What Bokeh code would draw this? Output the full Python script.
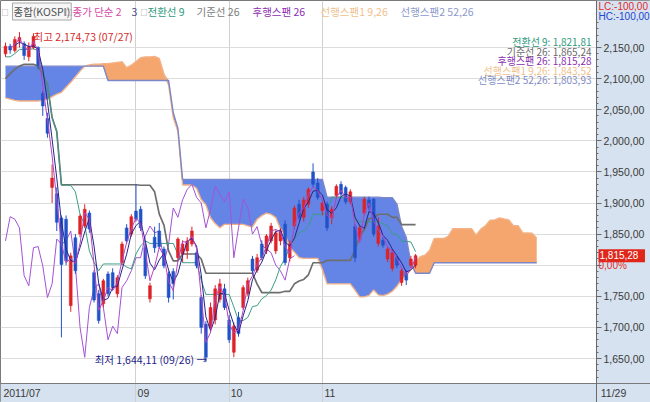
import math
from bokeh.plotting import figure
from bokeh.models import Range1d, FixedTicker, Label, BoxAnnotation
from bokeh.embed import file_html
from bokeh.resources import INLINE

# ---------------- data ----------------
dates = ["07/22", "07/25", "07/26", "07/27", "07/28", "07/29",
         "08/01", "08/02", "08/03", "08/04", "08/05", "08/08", "08/09", "08/10", "08/11", "08/12",
         "08/16", "08/17", "08/18", "08/19", "08/22", "08/23", "08/24", "08/25", "08/26", "08/29",
         "08/30", "08/31",
         "09/01", "09/02", "09/05", "09/06", "09/07", "09/08", "09/09", "09/14", "09/15", "09/16",
         "09/19", "09/20", "09/21", "09/22", "09/23", "09/26", "09/27", "09/28", "09/29", "09/30",
         "10/04", "10/05", "10/06", "10/07", "10/10", "10/11", "10/12", "10/13", "10/14", "10/17",
         "10/18", "10/19", "10/20", "10/21", "10/24", "10/25", "10/26", "10/27", "10/28", "10/31",
         "11/01", "11/02", "11/03", "11/04", "11/07", "11/08", "11/09", "11/10", "11/11", "11/14",
         "11/15", "11/16", "11/17", "11/18", "11/21", "11/22", "11/23", "11/24", "11/25", "11/28",
         "11/29"]

open_ = [2140, 2152, 2145, 2160, 2156, 2135, 2150, 2150, 2076, 2036, 1925, 1915, 1876, 1874, 1735, 1844,
         1850, 1863, 1884, 1788, 1754, 1738, 1786, 1788, 1754, 1804, 1860, 1850,
         1887, 1890, 1828, 1746, 1845, 1855, 1826, 1786, 1790, 1812, 1818, 1823, 1834, 1820, 1748, 1705,
         1700, 1712, 1745, 1762,
         1712, 1660, 1716, 1732, 1754, 1810, 1792, 1834, 1823, 1839, 1823, 1839, 1866, 1812, 1863, 1898,
         1877, 1898, 1950, 1932,
         1888, 1898, 1876, 1912, 1930, 1925, 1902, 1862, 1842, 1884, 1905, 1906, 1835, 1840, 1810, 1795,
         1812, 1772, 1786, 1800, 1800]
high = [2158, 2156, 2168, 2174.73, 2160, 2158, 2173, 2152, 2080, 2045, 1962, 1925, 1880, 1880, 1820, 1850,
        1882, 1898, 1888, 1792, 1760, 1778, 1790, 1795, 1784, 1838, 1866, 1882,
        1930, 1895, 1835, 1772, 1862, 1868, 1830, 1790, 1795, 1845, 1840, 1845, 1862, 1822, 1752, 1710,
        1740, 1768, 1778, 1770,
        1720, 1708, 1725, 1768, 1780, 1815, 1818, 1840, 1850, 1868, 1856, 1860, 1872, 1840, 1896, 1905,
        1910, 1925, 1963.75, 1940,
        1905, 1902, 1895, 1930, 1935, 1928, 1922, 1866, 1865, 1910, 1910, 1908, 1876.89, 1845, 1830, 1826,
        1815, 1795, 1792, 1815, 1818]
low = [2135, 2140, 2142, 2150, 2130, 2128, 2147, 2115, 2040, 2005, 1900, 1855, 1684, 1800, 1725, 1786,
       1845, 1860, 1852, 1740, 1706, 1732, 1750, 1760, 1748, 1800, 1835, 1846,
       1870, 1855, 1778, 1740, 1820, 1826, 1795, 1740, 1745, 1808, 1805, 1810, 1830, 1795, 1690, 1644.11,
       1692, 1705, 1740, 1728,
       1675, 1652, 1685, 1728, 1750, 1786, 1788, 1808, 1818, 1835, 1818, 1832, 1800, 1806, 1858, 1872,
       1870, 1892, 1925, 1905,
       1880, 1855, 1866, 1908, 1910, 1898, 1898, 1805, 1838, 1880, 1888, 1846, 1830, 1828, 1805, 1790,
       1795, 1766.73, 1768, 1796, 1795]
close = [2152, 2146, 2163, 2166, 2137, 2152, 2168, 2121, 2056, 2012, 1940, 1869, 1801, 1807, 1815, 1791,
         1879, 1890, 1858, 1744, 1711, 1775, 1754, 1764, 1780, 1834, 1839, 1878,
         1874, 1860, 1783, 1767, 1828, 1830, 1799, 1748, 1770, 1842, 1834, 1839, 1855, 1799, 1700, 1652,
         1732, 1762, 1770, 1732,
         1680, 1702, 1690, 1764, 1775, 1791, 1812, 1812, 1847, 1863, 1852, 1855, 1804, 1834, 1892, 1877,
         1905, 1922, 1930, 1909,
         1900, 1860, 1890, 1927, 1914, 1902, 1918, 1812, 1860, 1906, 1893, 1850, 1862, 1832, 1826, 1820,
         1800, 1791, 1776, 1810, 1815.28]

# indicator values before their look-back windows are complete
tenkan_head = [2135, 2135, 2140, 2147, 2147, 2147, 2148, 2145]
kijun_head = [2100, 2108, 2115, 2120, 2123, 2123, 2123, 2120]
span1_head = [2069, 2067, 2065, 2064, 2064, 2064, 2064, 2064, 2065, 2067, 2071, 2075, 2078,
              2086, 2094, 2103, 2112, 2120, 2122, 2123, 2123, 2124, 2124, 2125, 2126, 2127]
span2_head = [2120, 2120, 2120, 2120, 2120, 2120, 2120, 2120, 2120, 2120, 2120,
              2120, 2120, 2120, 2120, 2120, 2120, 2120, 2120, 2120, 2120, 2120,
              2097, 2097, 2097, 2097, 2097, 2097, 2097, 2097, 2097, 2097, 2097, 2097, 2097, 2097,
              2045, 2020,
              1938, 1938, 1938, 1938, 1938, 1938, 1938, 1938, 1938, 1938, 1938, 1938, 1938, 1938,
              1938, 1938, 1938, 1938, 1938, 1938, 1938, 1938, 1938, 1938, 1938, 1938, 1938, 1938,
              1938, 1938, 1938]

price_ticks = [1650, 1700, 1750, 1800, 1850, 1900, 1950, 2000, 2050, 2100, 2150]
hidden_price_labels = [1800]
axis_first_label = "2011/07"
month_labels = ["09", "10", "11"]

# ---------------- indicators ----------------
n = len(close)
idx = list(range(n))
SHIFT = 26


def mid(period, i):
    lo = max(0, i - period + 1)
    return (max(high[lo:i + 1]) + min(low[lo:i + 1])) / 2


tenkan = [tenkan_head[i] if i < len(tenkan_head) else mid(9, i) for i in idx]
kijun = [kijun_head[i] if i < len(kijun_head) else mid(26, i) for i in idx]
m = n + SHIFT
cidx = list(range(m))
span1 = [span1_head[c] if c < len(span1_head) else (tenkan[c - SHIFT] + kijun[c - SHIFT]) / 2 for c in cidx]
span2 = [span2_head[c] if c < len(span2_head) else mid(52, c - SHIFT) for c in cidx]
cloud_top = [max(a, b) for a, b in zip(span1, span2)]
nan = float("nan")
ma2 = [nan] + [(close[i - 1] + close[i]) / 2 for i in range(1, n)]
ma3 = [nan, nan] + [(close[i - 2] + close[i - 1] + close[i]) / 3 for i in range(2, n)]
month_starts = [i for i in range(1, n) if dates[i][:2] != dates[i - 1][:2] and dates[i][:2] != "08"]


def fmt(v):
    t = math.floor(v * 100 + 1e-6) / 100
    return f"{t:,.2f}".replace(".", ",")


# ---------------- layout helpers (reference pixels -> data) ----------------
W, H = 650, 402
SLOT_PX, SLOT0_PX = 4.66, 5.0
PT_PX, BASE_PY, BASE_V = 0.622, 358.0, 1650.0


def xd(px):
    return (px - SLOT0_PX) / SLOT_PX


def yd(py):
    return BASE_V + (BASE_PY - py) / PT_PX


PANEL = "#d6e2ef"
RED = "#de2226"
BLUE = "#2152c8"
KR = "Noto Sans CJK KR"
NUMF = "Liberation Sans"

p = figure(width=W, height=H, output_backend="svg", toolbar_location=None,
           x_range=Range1d(xd(0), xd(650)), y_range=Range1d(yd(402), yd(0)),
           y_axis_location="right", x_axis_location="below",
           min_border=0, min_border_left=0, min_border_right=0, min_border_top=0, min_border_bottom=0,
           background_fill_color="white", border_fill_color="white")
p.outline_line_color = "#7a7a7a"

# grids
p.xgrid.ticker = FixedTicker(ticks=month_starts)
p.ygrid.ticker = FixedTicker(ticks=price_ticks)
p.xgrid.grid_line_color = "#d0d0d0"
p.ygrid.grid_line_color = "#dcdcdc"

# axis panels: date band below the grid (month lines show through), price panel above it
p.add_layout(BoxAnnotation(top=yd(383), right=xd(596), fill_color=PANEL, fill_alpha=1, line_color=None,
                           level="image"))
p.add_layout(BoxAnnotation(left=xd(596), fill_color=PANEL, fill_alpha=1, line_color=None, level="underlay"))

# right price axis
ya = p.yaxis[0]
ya.fixed_location = xd(596)
ya.ticker = FixedTicker(ticks=price_ticks, minor_ticks=list(range(1620, 2200, 10)))
ya.major_label_overrides = {t: ("" if t in hidden_price_labels else fmt(t)) for t in price_ticks}
ya.major_label_text_font = NUMF
ya.major_label_text_font_size = "10.5px"
ya.major_label_text_color = "#3a3a3a"
ya.major_label_standoff = 2
ya.major_tick_out = 5
ya.major_tick_in = 0
ya.minor_tick_out = 2
ya.minor_tick_in = 0
ya.axis_line_color = "#6a6a6a"
ya.major_tick_line_color = "#6a6a6a"
ya.minor_tick_line_color = "#6a6a6a"

# bottom date axis, labels just right of the month separators
label_pos = [xd(21.5)] + [s + 1.6 for s in month_starts] + [xd(613)]
xa = p.xaxis[0]
xa.fixed_location = yd(383)
xa.ticker = FixedTicker(ticks=label_pos)
xa.major_label_overrides = dict(zip(label_pos, [axis_first_label] + month_labels + [dates[-1]]))
xa.major_label_text_font = NUMF
xa.major_label_text_font_size = "10.5px"
xa.major_label_text_color = "#3a3a3a"
xa.major_label_standoff = 3
xa.major_tick_out = 0
xa.major_tick_in = 0
xa.minor_tick_out = 0
xa.minor_tick_in = 0
xa.axis_line_color = "#7a7a7a"

# ---------------- Ichimoku cloud ----------------
p.varea(x=cidx, y1=span1, y2=cloud_top, fill_color="#6484e6")
p.varea(x=cidx, y1=span2, y2=cloud_top, fill_color="#f5a66e")
p.line(cidx, span1, line_color="#f2b285", line_width=1.4)
p.line(cidx, span2, line_color="#7d86c6", line_width=1.4)

# lagging span, base line, conversion line
p.line(idx[:n - SHIFT], close[SHIFT:], line_color="#a452d6", line_width=1)
p.line(idx, kijun, line_color="#6e6e6e", line_width=1.7)
p.line(idx, tenkan, line_color="#3e9c86", line_width=1)

# candles
colors = [RED if c >= o else BLUE for o, c in zip(open_, close)]
p.segment(x0=idx, y0=low, x1=idx, y1=high, line_color=colors, line_width=1)
p.vbar(x=idx, width=0.62, top=[max(o, c) for o, c in zip(open_, close)],
       bottom=[min(o, c) for o, c in zip(open_, close)],
       fill_color=colors, line_color=colors, line_width=0.5)

# moving averages
p.line(idx, ma3, line_color="#25258a", line_width=1)
p.line(idx, ma2, line_color="#b443c2", line_width=1)


# ---------------- texts ----------------
def lab(text, x, y, color, size=10.5, align="left", font=KR, **kw):
    p.add_layout(Label(x=x, y=y, text=text, text_color=color, text_font_size=f"{size}px",
                       text_align=align, text_baseline="middle", text_font=font, **kw))


# top legend row
ly = yd(11)
lab("□", xd(1), ly, "#8a8a8a", 7)
lab("종합(KOSPI)", xd(12), ly, "#505050", 10.5, border_line_color="#a8a8a8",
    background_fill_color="#f6f6f6", padding=1)
lab("□", xd(65), ly, "#8a8a8a", 7)
lab("종가 단순 2", xd(72), ly, "#d64aa8")
lab("3", xd(131), ly, "#46467c")
lab("□", xd(140), ly, "#8a8a8a", 7)
lab("전환선 9", xd(147), ly, "#2c9a7c")
lab("기준선 26", xd(196), ly, "#7a7a7a")
lab("후행스팬 26", xd(252), ly, "#8a2fb0")
lab("선행스팬1 9,26", xd(320), ly, "#f0bf8c")
lab("선행스팬2 52,26", xd(400), ly, "#8c98cc")

# current indicator values, right aligned
rx = xd(591)
lab(f"전환선 9: {fmt(tenkan[-1])}", rx, yd(41), "#2c9a7c", 10, "right")
lab(f"기준선 26: {fmt(kijun[-1])}", rx, yd(50.5), "#6a6a6a", 10, "right")
lab(f"후행스팬 26: {fmt(close[-1])}", rx, yd(60), "#8a2fb0", 10, "right")
lab(f"선행스팬1 9,26: {fmt(span1[-1])}", rx, yd(69.5), "#f0bf8c", 10, "right")
lab(f"선행스팬2 52,26: {fmt(span2[-1])}", rx, yd(79), "#7f8cc4", 10, "right")

# highest / lowest annotations
ih = max(idx, key=lambda i: high[i])
il = min(idx, key=lambda i: low[i])
lab(f"최고 {fmt(high[ih])} ({dates[ih]})", ih + 14 / SLOT_PX, high[ih] - 4 / PT_PX, "#d42a2a")
lab(f"최저 {fmt(low[il])} ({dates[il]}) →", il + 1 / SLOT_PX, low[il] + 3 / PT_PX, "#1e1e8c", 10.5, "right")

# right panel texts
px_r = xd(598)
lab("LC:-100,00", px_r, yd(5.5), "#e02a2a", 10, font=NUMF)
lab("HC:-100,00", px_r, yd(16), "#2444d0", 10, font=NUMF)
lab(fmt(close[-1]) + "  ", px_r, close[-1], "white", 10, font=NUMF,
    background_fill_color="#e0261a", padding=1)
lab("0,00%", px_r, close[-1] - 10 / PT_PX, "#e02a2a", 10, font=NUMF)

open("out.html", "w").write(file_html(p, INLINE))
